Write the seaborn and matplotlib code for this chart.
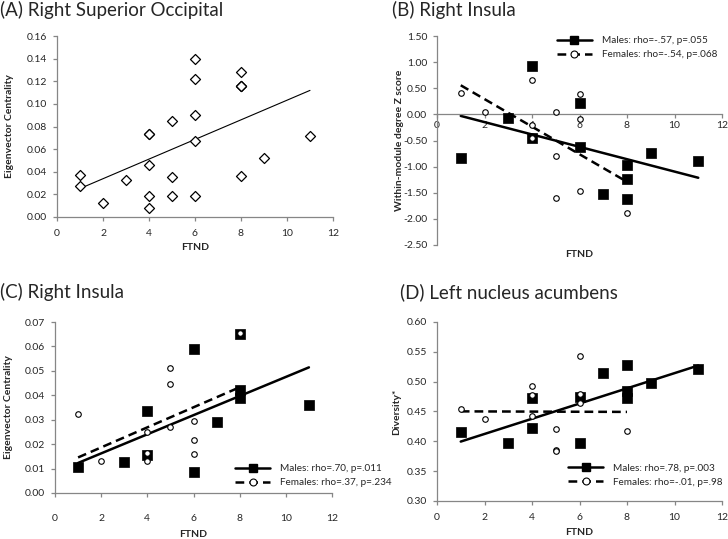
import numpy as np
import pandas as pd
import matplotlib
matplotlib.use("Agg")
import matplotlib.pyplot as plt
from matplotlib.lines import Line2D
import seaborn as sns

# (A) Right Superior Occipital - all subjects (overlapping points repeated)
a_ftnd = [1, 1, 2, 3, 4, 4, 4, 4, 4, 5, 5, 5, 6, 6, 6, 6, 6, 8, 8, 8, 8, 8, 9, 11]
a_ec = [0.037, 0.027, 0.012, 0.033, 0.073, 0.073, 0.046, 0.019, 0.008, 0.085, 0.035, 0.019,
        0.140, 0.122, 0.090, 0.067, 0.019, 0.128, 0.116, 0.116, 0.116, 0.036, 0.052, 0.072]

# (B) Right Insula - within-module degree Z
b_m_ftnd = [1, 3, 4, 4, 6, 6, 7, 8, 8, 8, 9, 11]
b_m_z = [-0.83, -0.07, 0.92, -0.45, 0.22, -0.63, -1.53, -0.96, -1.23, -1.62, -0.74, -0.89]
b_f_ftnd = [1, 2, 4, 4, 4, 5, 5, 5, 6, 6, 6, 8]
b_f_z = [0.40, 0.05, 0.66, -0.20, -0.45, 0.05, -0.79, -1.61, 0.39, -0.08, -1.47, -1.88]

# (C) Right Insula - eigenvector centrality
c_m_ftnd = [1, 3, 4, 4, 6, 6, 7, 8, 8, 8, 11]
c_m_ec = [0.0105, 0.0125, 0.0335, 0.0155, 0.059, 0.0085, 0.029, 0.065, 0.042, 0.039, 0.036]
c_f_ftnd = [1, 2, 4, 4, 4, 5, 5, 5, 6, 6, 6, 8]
c_f_ec = [0.0325, 0.013, 0.025, 0.0165, 0.013, 0.051, 0.0445, 0.027, 0.0295, 0.0218, 0.016, 0.0655]

# (D) Left nucleus acumbens - diversity
d_m_ftnd = [1, 3, 4, 4, 6, 6, 7, 8, 8, 8, 9, 11]
d_m_div = [0.416, 0.397, 0.472, 0.422, 0.475, 0.397, 0.515, 0.528, 0.485, 0.473, 0.497, 0.521]
d_f_ftnd = [1, 2, 4, 4, 4, 5, 5, 5, 6, 6, 6, 8]
d_f_div = [0.455, 0.437, 0.492, 0.477, 0.442, 0.420, 0.386, 0.384, 0.543, 0.480, 0.464, 0.417]

legend_b = ["Males: rho=-.57, p=.055", "Females: rho=-.54, p=.068"]
legend_c = ["Males: rho=.70, p=.011", "Females: rho=.37, p=.234"]
legend_d = ["Males: rho=.78, p=.003", "Females: rho=-.01, p=.98"]

sns.set_theme(style="ticks")
plt.rcParams['font.family'] = ['Lato', 'DejaVu Sans']

AXIS_GREY = '#868686'
W, H = 728, 539
fig = plt.figure(figsize=(W / 100, H / 100), dpi=100)


def px_axes(left, top, right, bottom):
    return fig.add_axes([left / W, 1 - bottom / H, (right - left) / W, (bottom - top) / H])


def style_axes(ax, yticks, fmt, xpad=6, ypad=4):
    ax.set_xlim(0, 12)
    ax.set_xticks(range(0, 13, 2))
    ax.set_yticks(yticks)
    ax.set_yticklabels([fmt.format(v) for v in yticks])
    ax.set_ylim(yticks[0], yticks[-1])
    for s in ['top', 'right']:
        ax.spines[s].set_visible(False)
    for s in ['left', 'bottom']:
        ax.spines[s].set_color(AXIS_GREY)
        ax.spines[s].set_linewidth(0.9)
    ax.tick_params(axis='both', labelsize=7.5, color=AXIS_GREY, length=3, width=0.9)
    ax.tick_params(axis='x', pad=xpad)
    ax.tick_params(axis='y', pad=ypad)


def sex_plot(ax, mx, my, fx, fy, msize=40):
    dm = pd.DataFrame({'FTND': mx, 'val': my})
    dfm = pd.DataFrame({'FTND': fx, 'val': fy})
    sns.regplot(x='FTND', y='val', data=dm, ax=ax, scatter=False, ci=None, truncate=True,
                line_kws={'color': 'black', 'linewidth': 1.8, 'zorder': 2})
    sns.regplot(x='FTND', y='val', data=dfm, ax=ax, scatter=False, ci=None, truncate=True,
                line_kws={'color': 'black', 'linewidth': 1.8, 'linestyle': (0, (3.5, 2)), 'zorder': 2})
    sns.scatterplot(x='FTND', y='val', data=dm, ax=ax, marker='s', s=msize, color='black',
                    edgecolor='black', linewidth=0.5, zorder=3)
    sns.scatterplot(x='FTND', y='val', data=dfm, ax=ax, marker='o', s=16, color='white',
                    edgecolor='black', linewidth=0.8, zorder=4)


def add_legend(ax, labels, anchor, loc):
    h = [Line2D([], [], color='black', lw=1.8, marker='s', ms=5.5, mfc='black', mec='black'),
         Line2D([], [], color='black', lw=1.8, ls=(0, (3.5, 2)), marker='o', ms=5,
                mfc='white', mec='black', mew=0.8)]
    ax.legend(h, labels, loc=loc, bbox_to_anchor=anchor, frameon=False, fontsize=7.2,
              handlelength=3.5, handletextpad=1.0, labelspacing=0.5, borderaxespad=0,
              borderpad=0)


# ---- (A)
axA = px_axes(57, 36, 333, 217)
dA = pd.DataFrame({'FTND': a_ftnd, 'EC': a_ec})
sns.regplot(x='FTND', y='EC', data=dA, ax=axA, ci=None, truncate=True,
            marker='D', scatter_kws={'s': 26, 'facecolor': 'white', 'edgecolor': 'black',
                                     'linewidths': 0.9, 'alpha': 1, 'zorder': 3},
            line_kws={'color': 'black', 'linewidth': 0.8})
style_axes(axA, np.round(np.arange(0, 0.161, 0.02), 2), '{:.2f}')
axA.set_xlabel('FTND', fontsize=7.5, fontweight='bold')
axA.set_ylabel('Eigenvector Centrality', fontsize=7.5, fontweight='bold')
axA.xaxis.set_label_coords(0.5, -0.145)
axA.yaxis.set_label_coords(-0.155, 0.5)

# ---- (B)
axB = px_axes(437, 36, 722, 245)
sex_plot(axB, b_m_ftnd, b_m_z, b_f_ftnd, b_f_z, msize=44)
style_axes(axB, np.round(np.arange(-2.5, 1.51, 0.5), 2), '{:.2f}', xpad=2)
axB.spines['bottom'].set_position(('data', 0))
axB.set_xlabel('FTND', fontsize=7.5, fontweight='bold')
axB.set_ylabel('Within-module degree Z score', fontsize=7.5, fontweight='bold')
axB.xaxis.set_label_coords(0.5, -0.025)
axB.yaxis.set_label_coords(-0.115, 0.5)
add_legend(axB, legend_b, (0.42, 1.0), 'upper left')

# ---- (C)
axC = px_axes(55, 322, 332, 493)
sex_plot(axC, c_m_ftnd, c_m_ec, c_f_ftnd, c_f_ec, msize=42)
style_axes(axC, np.round(np.arange(0, 0.071, 0.01), 2), '{:.2f}', xpad=12)
axC.set_xlabel('FTND', fontsize=7.5, fontweight='bold')
axC.set_ylabel('Eigenvector Centrality', fontsize=7.5, fontweight='bold')
axC.xaxis.set_label_coords(0.5, -0.215)
axC.yaxis.set_label_coords(-0.15, 0.5)
add_legend(axC, legend_c, (0.65, 0.035), 'lower left')

# ---- (D)
axD = px_axes(437, 322, 722, 501)
sex_plot(axD, d_m_ftnd, d_m_div, d_f_ftnd, d_f_div, msize=42)
style_axes(axD, np.round(np.arange(0.30, 0.601, 0.05), 2), '{:.2f}')
axD.set_xlabel('FTND', fontsize=7.5, fontweight='bold')
axD.set_ylabel('Diversity*', fontsize=7.5, fontweight='bold')
axD.xaxis.set_label_coords(0.5, -0.15)
axD.yaxis.set_label_coords(-0.125, 0.5)
add_legend(axD, legend_d, (0.46, 0.08), 'lower left')

# panel titles
for txt, x, y in [('(A) Right Superior Occipital', 0, 10), ('(B) Right Insula', 392, 10),
                  ('(C) Right Insula', 0, 292), ('(D) Left nucleus acumbens', 400, 292)]:
    fig.text(x / W, 1 - y / H, txt, fontsize=13.5, ha='left', va='center')

fig.savefig('out.png', dpi=100, facecolor='white')
